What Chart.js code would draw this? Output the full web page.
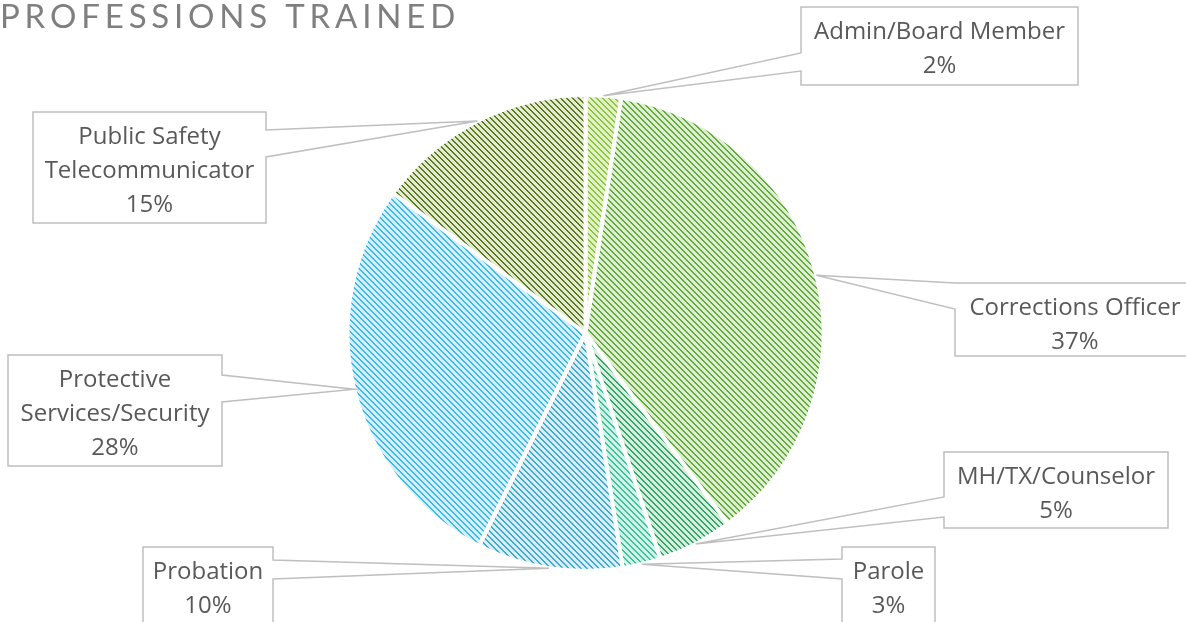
<!DOCTYPE html>
<html>
<head>
<meta charset="utf-8">
<script src="https://cdn.jsdelivr.net/npm/chart.js@4/dist/chart.umd.min.js"></script>
<style>
  html, body { margin: 0; padding: 0; background: #fff; }
  #wrap { position: relative; width: 1186px; height: 622px; overflow: hidden; }
</style>
</head>
<body>
<div id="wrap"><canvas id="c" width="1186" height="622"></canvas></div>
<script>
// ---- data ----
const titleText = 'PROFESSIONS TRAINED';
const categories = [
  'Admin/Board Member',
  'Corrections Officer',
  'MH/TX/Counselor',
  'Parole',
  'Probation',
  ['Protective', 'Services/Security'],
  ['Public Safety', 'Telecommunicator']
];
const shares = [2.4, 37.4, 5.1, 2.6, 9.9, 27.6, 15.0];
const percentLabels = ['2%', '37%', '5%', '3%', '10%', '28%', '15%'];

// ---- styles ----
const fillBg = ['#e2f0c8', '#dcedd0', '#d3eedf', '#d0f1e7', '#d8ecf4', '#d4eefb', '#e3eacf'];
const fillFg = ['#8cc63e', '#62aa3c', '#33a464', '#3cc199', '#3aa9d3', '#38b9ef', '#5b7b1f'];

function makePattern(bg, fg) {
  const c = document.createElement('canvas');
  c.width = 6; c.height = 6;
  const g = c.getContext('2d');
  g.fillStyle = bg; g.fillRect(0, 0, 6, 6);
  g.fillStyle = fg;
  for (let i = 0; i < 6; i++) {
    g.fillRect(i, i, 2, 1);
    if (i === 5) g.fillRect(0, i, 1, 1);
  }
  return g.createPattern(c, 'repeat');
}
const patterns = fillBg.map((b, i) => makePattern(b, fillFg[i]));

// callout boxes (layout)
const boxes = [
  { x: 801, y: 7,   w: 277, h: 78,  side: 'left',  b1: 53,  b2: 71 },
  { x: 955, y: 283, w: 240, h: 73,  side: 'left',  b1: 283, b2: 309 },
  { x: 944, y: 452, w: 224, h: 76,  side: 'left',  b1: 497, b2: 517 },
  { x: 842, y: 547, w: 93,  h: 90,  side: 'left',  b1: 559, b2: 579 },
  { x: 143, y: 547, w: 130, h: 90,  side: 'right', b1: 560, b2: 579 },
  { x: 8,   y: 355, w: 214, h: 111, side: 'right', b1: 375, b2: 402 },
  { x: 33,  y: 112, w: 233, h: 111, side: 'right', b1: 130, b2: 157 }
];

const calloutPlugin = {
  id: 'callouts',
  afterDatasetsDraw(chart) {
    const ctx = chart.ctx;
    const meta = chart.getDatasetMeta(0);
    ctx.save();
    meta.data.forEach((arc, i) => {
      const p = arc.getProps(['x', 'y', 'startAngle', 'endAngle', 'outerRadius'], true);
      const mid = (p.startAngle + p.endAngle) / 2;
      const tx = p.x + Math.cos(mid) * p.outerRadius;
      const ty = p.y + Math.sin(mid) * p.outerRadius;
      const b = boxes[i];
      ctx.beginPath();
      if (b.side === 'left') {
        ctx.moveTo(b.x, b.y);
        ctx.lineTo(b.x + b.w, b.y);
        ctx.lineTo(b.x + b.w, b.y + b.h);
        ctx.lineTo(b.x, b.y + b.h);
        ctx.lineTo(b.x, b.b2);
        ctx.lineTo(tx, ty);
        ctx.lineTo(b.x, b.b1);
        ctx.closePath();
      } else {
        ctx.moveTo(b.x, b.y);
        ctx.lineTo(b.x + b.w, b.y);
        ctx.lineTo(b.x + b.w, b.b1);
        ctx.lineTo(tx, ty);
        ctx.lineTo(b.x + b.w, b.b2);
        ctx.lineTo(b.x + b.w, b.y + b.h);
        ctx.lineTo(b.x, b.y + b.h);
        ctx.closePath();
      }
      ctx.fillStyle = '#ffffff';
      ctx.fill();
      ctx.strokeStyle = '#bfbfbf';
      ctx.lineWidth = 1.5;
      ctx.stroke();

      const name = chart.data.labels[i];
      const lines = (Array.isArray(name) ? name.slice() : [name]);
      lines.push(percentLabels[i]);
      ctx.fillStyle = '#595959';
      ctx.font = '24px "Open Sans"';
      ctx.textAlign = 'center';
      ctx.textBaseline = 'middle';
      lines.forEach((ln, k) => {
        ctx.fillText(ln, b.x + b.w / 2, b.y + 25 + k * 34);
      });
    });
    ctx.restore();
  }
};

const titlePlugin = {
  id: 'spacedTitle',
  afterDraw(chart) {
    const ctx = chart.ctx;
    ctx.save();
    ctx.font = '400 33px Lato';
    ctx.fillStyle = '#7f7f7f';
    ctx.textBaseline = 'alphabetic';
    ctx.textAlign = 'left';
    const chars = titleText.split('');
    const natural = ctx.measureText(titleText).width;
    const target = 455;
    const gap = (target - natural) / (chars.length - 1);
    let x = 0;
    chars.forEach(ch => {
      ctx.fillText(ch, x, 28);
      x += ctx.measureText(ch).width + gap;
    });
    ctx.restore();
  }
};

new Chart(document.getElementById('c'), {
  type: 'pie',
  data: {
    labels: categories,
    datasets: [{
      data: shares,
      backgroundColor: patterns,
      borderColor: '#ffffff',
      borderWidth: 4,
      hoverOffset: 0
    }]
  },
  options: {
    responsive: false,
    animation: false,
    events: [],
    layout: { padding: { left: 345, right: 360, top: 93, bottom: 49 } },
    plugins: {
      legend: { display: false },
      tooltip: { enabled: false },
      title: { display: false }
    }
  },
  plugins: [calloutPlugin, titlePlugin]
});
</script>
</body>
</html>
